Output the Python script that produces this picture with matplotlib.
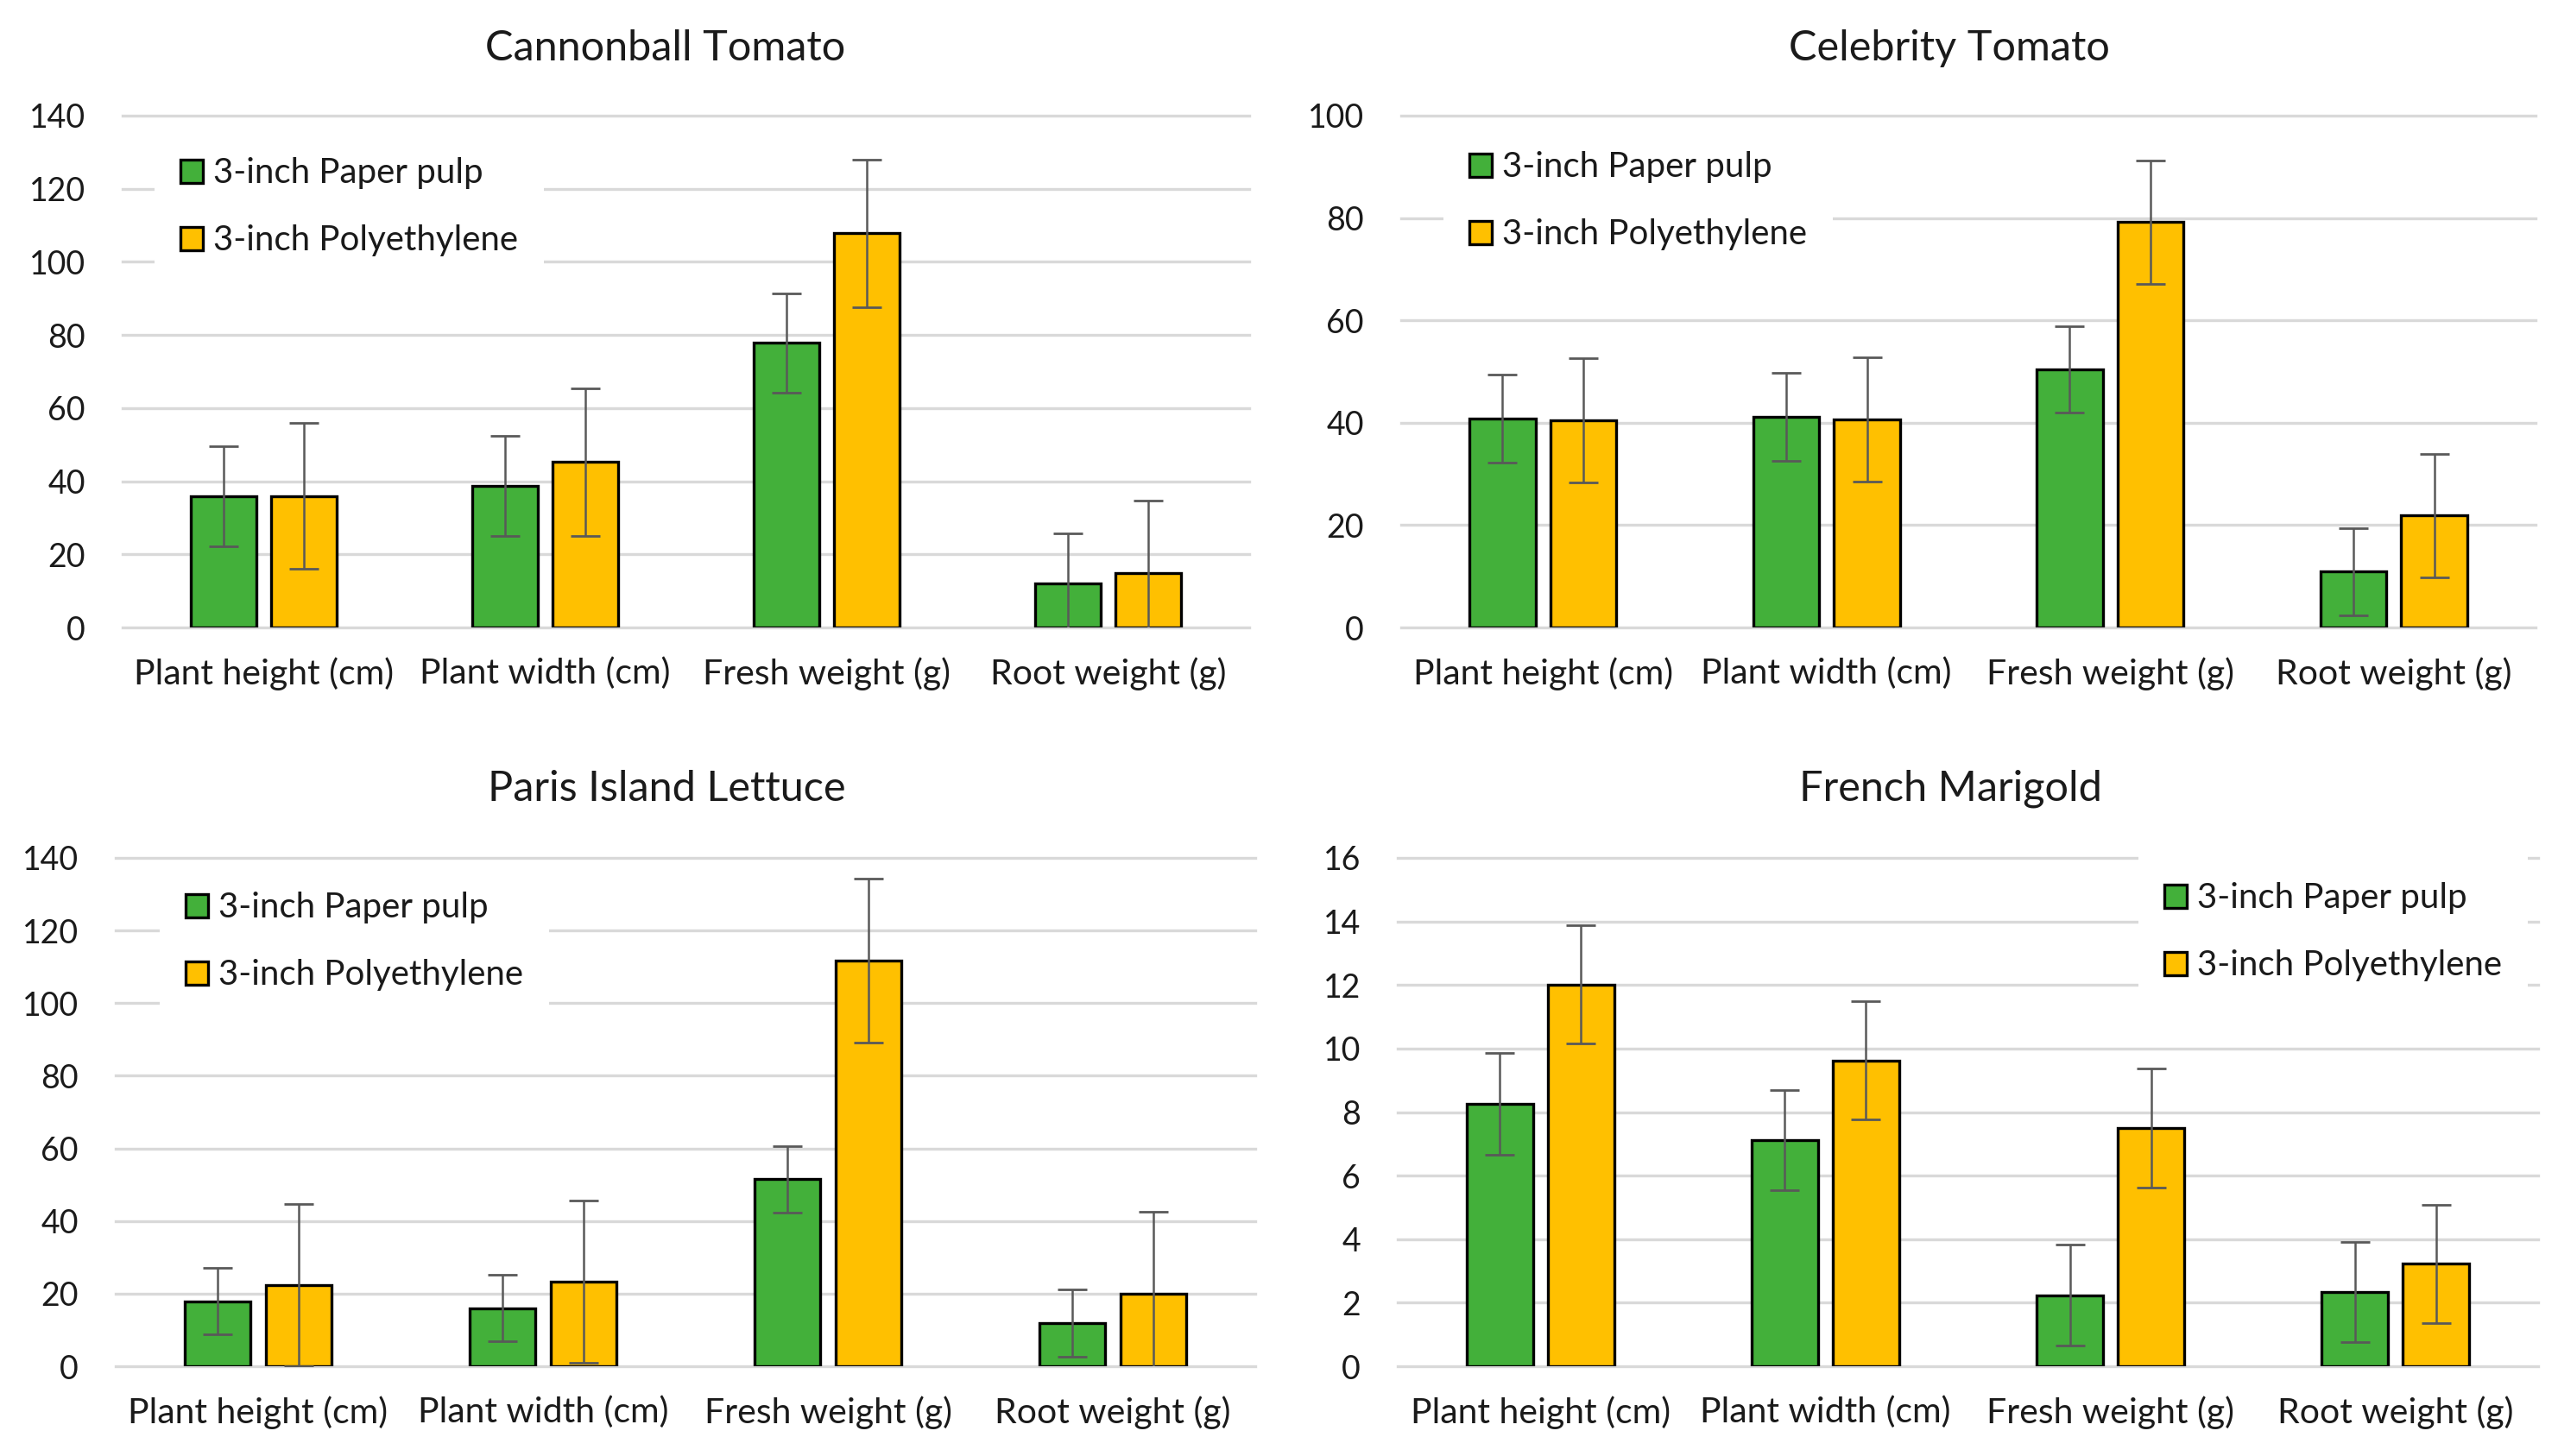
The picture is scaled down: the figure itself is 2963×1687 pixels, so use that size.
import matplotlib
matplotlib.use("Agg")
import matplotlib.pyplot as plt
import numpy as np

categories = ["Plant height (cm)", "Plant width (cm)", "Fresh weight (g)", "Root weight (g)"]
series_names = ["3-inch Paper pulp", "3-inch Polyethylene"]

titles = ["Cannonball Tomato", "Celebrity Tomato", "Paris Island Lettuce", "French Marigold"]

cannon_paper = [35.8, 38.8, 77.8, 12.0]
cannon_paper_err = [13.7, 13.7, 13.6, 13.8]
cannon_poly = [36.0, 45.3, 107.8, 14.8]
cannon_poly_err = [20.0, 20.2, 20.1, 20.0]

celeb_paper = [40.8, 41.2, 50.4, 10.9]
celeb_paper_err = [8.6, 8.6, 8.4, 8.5]
celeb_poly = [40.5, 40.6, 79.2, 21.9]
celeb_poly_err = [12.1, 12.1, 12.1, 12.05]

lettuce_paper = [17.9, 16.0, 51.5, 11.9]
lettuce_paper_err = [9.1, 9.1, 9.1, 9.3]
lettuce_poly = [22.4, 23.3, 111.7, 19.9]
lettuce_poly_err = [22.4, 22.4, 22.5, 22.6]

mari_paper = [8.26, 7.12, 2.24, 2.34]
mari_paper_err = [1.6, 1.57, 1.6, 1.58]
mari_poly = [12.02, 9.62, 7.50, 3.22]
mari_poly_err = [1.87, 1.86, 1.87, 1.86]

yticks_list = [list(range(0, 141, 20)), list(range(0, 101, 20)),
               list(range(0, 141, 20)), list(range(0, 17, 2))]

panels = [
    (cannon_paper, cannon_paper_err, cannon_poly, cannon_poly_err),
    (celeb_paper, celeb_paper_err, celeb_poly, celeb_poly_err),
    (lettuce_paper, lettuce_paper_err, lettuce_poly, lettuce_poly_err),
    (mari_paper, mari_paper_err, mari_poly, mari_poly_err),
]

W, H = 2963, 1687
GREEN = "#43B03A"
YELLOW = "#FFC000"
GRID = "#D9D9D9"
TEXT = "#1a1a1a"
ERR = "#595959"
FONT = "Lato"

plt.rcParams["font.family"] = [FONT, "DejaVu Sans"]

fig = plt.figure(figsize=(W / 100, H / 100), dpi=100)
fig.patch.set_facecolor("white")

# axes boxes in pixels: (left, top, right, bottom)
boxes = [(142, 134, 1447, 727), (1623, 134, 2937, 727),
         (134, 994, 1454, 1583), (1619, 994, 2940, 1583)]
title_pos = [(771, 56), (2258, 56), (772, 914), (2259, 914)]
legend_pos = [(179, 152), (1672, 145), (185, 1003), (2477, 992)]

bw = 0.233
off = 0.1425
x = np.arange(len(categories))

for i, (pp, ppe, po, poe) in enumerate(panels):
    l, t, r, b = boxes[i]
    ax = fig.add_axes([l / W, 1 - b / H, (r - l) / W, (b - t) / H])
    ax.set_axisbelow(True)
    ax.bar(x - off, pp, bw, color=GREEN, edgecolor="black", linewidth=2.4,
           label=series_names[0], zorder=2)
    ax.bar(x + off, po, bw, color=YELLOW, edgecolor="black", linewidth=2.4,
           label=series_names[1], zorder=2)
    ax.errorbar(x - off, pp, yerr=ppe, fmt="none", ecolor=ERR, elinewidth=1.8,
                capsize=12, capthick=2, zorder=3)
    ax.errorbar(x + off, po, yerr=poe, fmt="none", ecolor=ERR, elinewidth=1.8,
                capsize=12, capthick=2, zorder=3)
    yt = yticks_list[i]
    ax.set_ylim(yt[0], yt[-1])
    ax.set_xlim(-0.5, len(categories) - 0.5)
    ax.set_yticks(yt)
    ax.set_yticklabels([str(v) for v in yt])
    ax.set_xticks(x)
    ax.set_xticklabels(categories)
    ax.tick_params(axis="y", length=0, pad=31, labelsize=27, labelcolor=TEXT)
    ax.tick_params(axis="x", length=0, pad=25, labelsize=29.5, labelcolor=TEXT)
    for s in ax.spines.values():
        s.set_visible(False)
    ax.yaxis.grid(True, color=GRID, linewidth=2.4)
    ax.xaxis.grid(False)
    for gl in ax.get_ygridlines():
        gl.set_clip_on(False)

    lx, ly = legend_pos[i]
    leg = ax.legend(loc="upper left", bbox_to_anchor=(lx / W, 1 - ly / H),
                    bbox_transform=fig.transFigure, fontsize=29,
                    frameon=True, fancybox=False, framealpha=1,
                    facecolor="white", edgecolor="none", borderpad=0.75,
                    borderaxespad=0, handlelength=0.65, handleheight=0.65,
                    handletextpad=0.28, labelspacing=1.02)
    for txt in leg.get_texts():
        txt.set_color(TEXT)
    for h in leg.legend_handles:
        h.set_linewidth(2.4)

    tx, ty = title_pos[i]
    fig.text(tx / W, 1 - ty / H, titles[i], ha="center", va="center",
             fontsize=35, color=TEXT)

fig.savefig("out.png", dpi=100, facecolor="white")
